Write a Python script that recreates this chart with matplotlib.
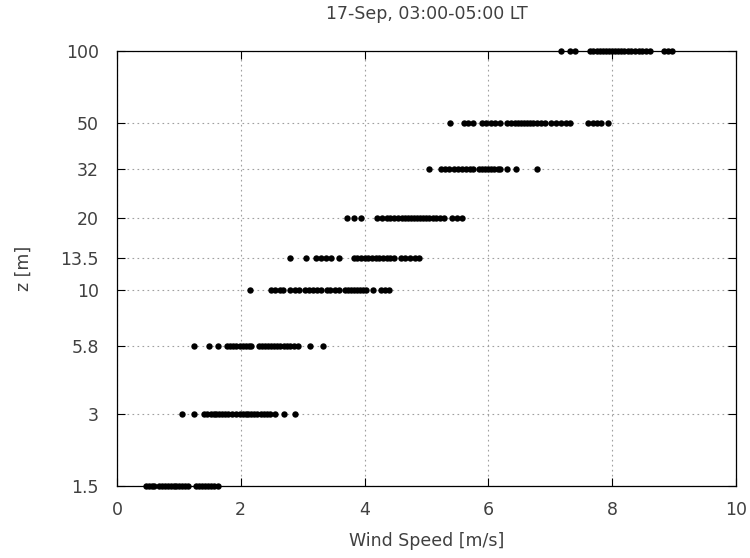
import matplotlib
matplotlib.use("Agg")
import matplotlib.pyplot as plt
from matplotlib.ticker import FixedLocator, NullLocator

# heights [m] and wind speeds [m/s]
levels = [1.5, 3, 5.8, 10, 13.5, 20, 32, 50, 100]
speeds = {
    1.5: [0.47, 0.52, 0.56, 0.60, 0.68, 0.73, 0.78, 0.83, 0.88, 0.92, 0.96, 1.00,
          1.05, 1.10, 1.14, 1.27, 1.32, 1.37, 1.42, 1.47, 1.52, 1.57, 1.64],
    3: [1.05, 1.25, 1.40, 1.46, 1.52, 1.56, 1.60, 1.65, 1.70, 1.75, 1.80, 1.86,
        1.92, 1.98, 2.03, 2.08, 2.12, 2.17, 2.22, 2.27, 2.32, 2.38, 2.43, 2.48,
        2.55, 2.70, 2.88],
    5.8: [1.24, 1.49, 1.64, 1.78, 1.83, 1.88, 1.93, 1.98, 2.03, 2.08, 2.13, 2.17,
          2.29, 2.34, 2.39, 2.44, 2.49, 2.54, 2.59, 2.64, 2.70, 2.75, 2.80, 2.86,
          2.92, 3.12, 3.33],
    10: [2.15, 2.49, 2.56, 2.63, 2.69, 2.80, 2.87, 2.94, 3.04, 3.10, 3.17, 3.23,
         3.30, 3.39, 3.45, 3.52, 3.59, 3.68, 3.73, 3.78, 3.83, 3.88, 3.93, 3.98,
         4.03, 4.13, 4.26, 4.33, 4.39],
    13.5: [2.79, 3.06, 3.22, 3.30, 3.38, 3.46, 3.59, 3.83, 3.88, 3.94, 4.00, 4.06,
           4.12, 4.18, 4.24, 4.30, 4.36, 4.42, 4.47, 4.59, 4.66, 4.74, 4.82, 4.88],
    20: [3.71, 3.83, 3.95, 4.20, 4.28, 4.36, 4.42, 4.48, 4.54, 4.60, 4.65, 4.70,
         4.75, 4.80, 4.85, 4.90, 4.95, 5.00, 5.05, 5.10, 5.15, 5.22, 5.28, 5.42,
         5.50, 5.57],
    32: [5.04, 5.23, 5.30, 5.37, 5.44, 5.51, 5.58, 5.64, 5.70, 5.76, 5.85, 5.90,
         5.95, 6.00, 6.05, 6.10, 6.15, 6.19, 6.30, 6.45, 6.78],
    50: [5.38, 5.60, 5.68, 5.76, 5.90, 5.97, 6.04, 6.11, 6.19, 6.31, 6.37, 6.43,
         6.48, 6.53, 6.58, 6.63, 6.68, 6.73, 6.79, 6.85, 6.91, 7.01, 7.09, 7.17,
         7.25, 7.32, 7.62, 7.69, 7.76, 7.83, 7.94],
    100: [7.18, 7.32, 7.40, 7.65, 7.70, 7.75, 7.80, 7.85, 7.90, 7.95, 8.00, 8.05,
          8.10, 8.15, 8.20, 8.26, 8.31, 8.37, 8.43, 8.49, 8.55, 8.61, 8.84, 8.90,
          8.97],
}
ytick_labels = ["1.5", "3", "5.8", "10", "13.5", "20", "32", "50", "100"]
xticks = [0, 2, 4, 6, 8, 10]

txt = "#404040"
fs = 12.5
plt.rcParams["font.family"] = "DejaVu Sans"

fig = plt.figure(figsize=(7.5, 5.58), dpi=100)
ax = fig.add_axes([0.156, 0.129, 0.825, 0.7796])

for z in levels:
    ax.plot(speeds[z], [z] * len(speeds[z]), "o", color="black", ms=4.6,
            mew=0, clip_on=False, zorder=3)

ax.set_yscale("log")
ax.set_ylim(1.5, 100)
ax.set_xlim(0, 10)
ax.yaxis.set_major_locator(FixedLocator(levels))
ax.yaxis.set_minor_locator(NullLocator())
ax.set_yticklabels(ytick_labels)
ax.set_xticks(xticks)
ax.set_xticklabels([str(x) for x in xticks])

ax.grid(True, color="#a0a0a0", linestyle=(0, (1.5, 3)), linewidth=0.8)
ax.tick_params(direction="in", length=6, width=0.8, top=True, right=True,
               labelsize=fs, labelcolor=txt, color="black")
ax.tick_params(axis="y", pad=13)
ax.tick_params(axis="x", pad=11)
for s in ax.spines.values():
    s.set_linewidth(0.9)

ax.set_xlabel("Wind Speed [m/s]", fontsize=fs, color=txt, labelpad=9)
ax.set_ylabel("z [m]", fontsize=fs, color=txt, labelpad=20)
ax.set_title("17-Sep, 03:00-05:00 LT", fontsize=fs, color=txt, pad=23)

fig.savefig("out.png", dpi=100)
